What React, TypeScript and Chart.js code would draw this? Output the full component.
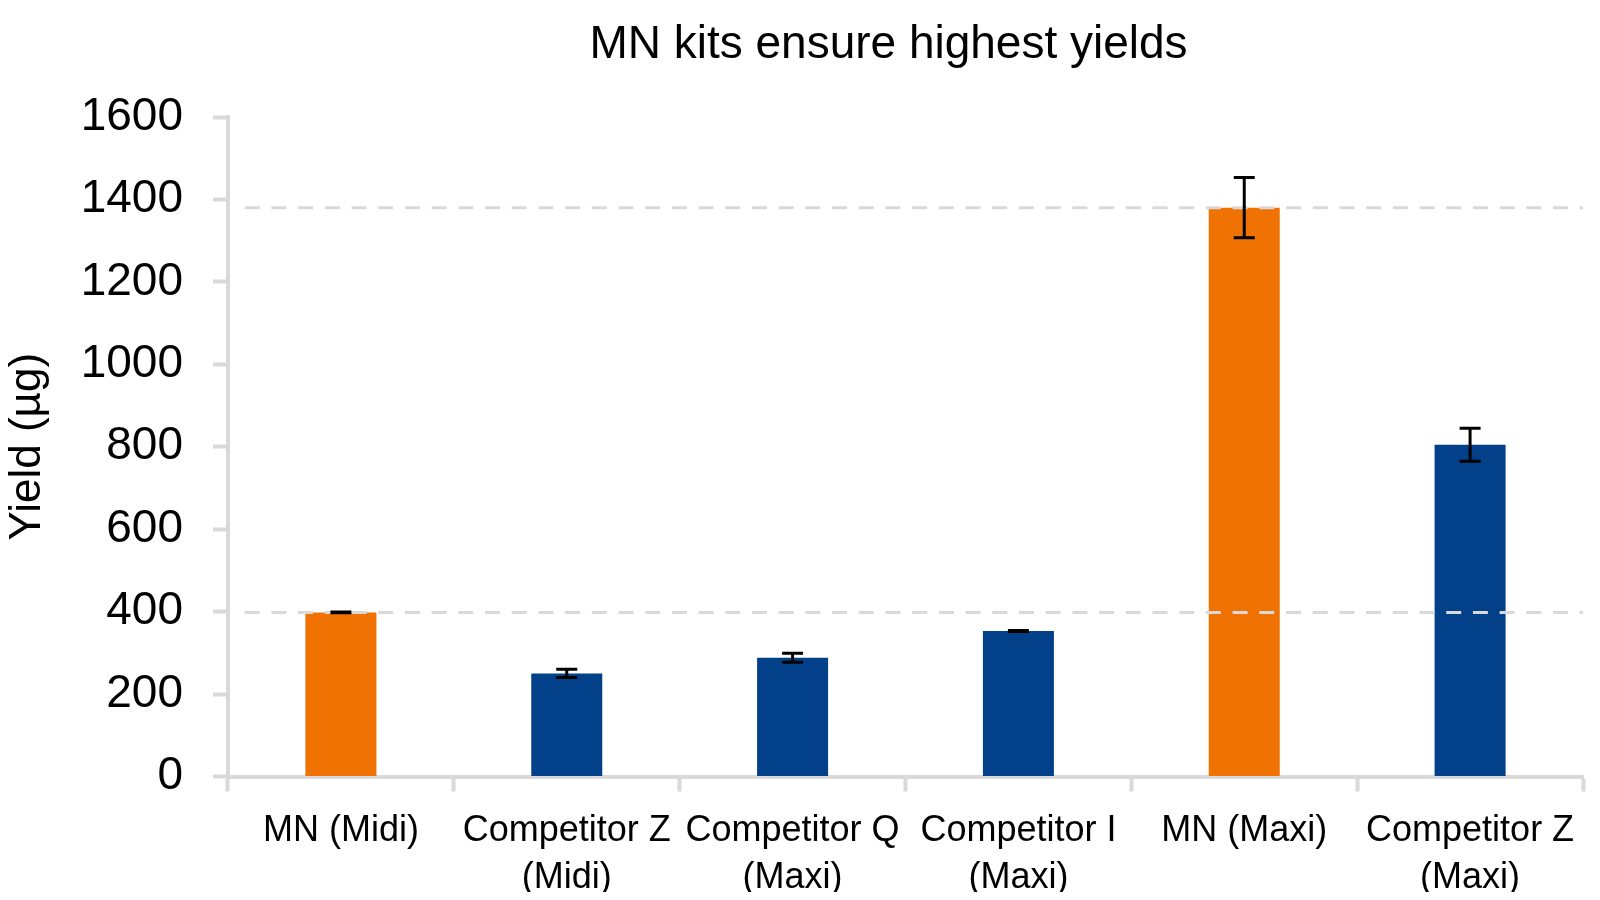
import React, { useEffect, useRef } from 'react';
import { Chart, registerables } from 'chart.js';

Chart.register(...registerables);

// ---- Data ----
const categoryLabels: string[][] = [
  ['MN (Midi)'],
  ['Competitor Z', '(Midi)'],
  ['Competitor Q', '(Maxi)'],
  ['Competitor I', '(Maxi)'],
  ['MN (Maxi)'],
  ['Competitor Z', '(Maxi)'],
];
const yieldValues = [398, 250, 288, 353, 1380, 805];
const yieldErrors = [1, 10, 11, 1, 73, 40];
const referenceLines = [398, 1380];
const yAxisMin = 0;
const yAxisMax = 1600;
const yAxisStep = 200;
const chartTitle = 'MN kits ensure highest yields';
const yAxisTitle = 'Yield (µg)';

// ---- Styles ----
const FONT = "'Liberation Sans', Arial, Helvetica, sans-serif";
const MN_ORANGE = '#EF7203';
const COMPETITOR_BLUE = '#02418A';
const AXIS_GRAY = '#D9D9D9';
const TEXT_COLOR = '#000000';

const barColors = categoryLabels.map((l) => (l[0].startsWith('MN') ? MN_ORANGE : COMPETITOR_BLUE));

const overlayPlugin = {
  id: 'overlay',
  afterDatasetsDraw(chart: any) {
    const { ctx, chartArea, scales } = chart;
    const y = scales.y;
    ctx.save();
    // dashed reference lines
    ctx.strokeStyle = AXIS_GRAY;
    ctx.lineWidth = 3;
    ctx.setLineDash([15, 11.7]);
    ctx.lineDashOffset = 15;
    referenceLines.forEach((v) => {
      const py = y.getPixelForValue(v);
      ctx.beginPath();
      ctx.moveTo(chartArea.left + 5, py);
      ctx.lineTo(chartArea.right, py);
      ctx.stroke();
    });
    ctx.setLineDash([]);
    // error bars
    const meta = chart.getDatasetMeta(0);
    ctx.strokeStyle = '#000000';
    ctx.lineWidth = 3;
    const cap = 10.5;
    meta.data.forEach((bar: any, i: number) => {
      const v = yieldValues[i];
      const e = yieldErrors[i];
      const top = y.getPixelForValue(v + e);
      const bot = y.getPixelForValue(v - e);
      const x = bar.x;
      ctx.beginPath();
      ctx.moveTo(x, top);
      ctx.lineTo(x, bot);
      ctx.moveTo(x - cap, top);
      ctx.lineTo(x + cap, top);
      ctx.moveTo(x - cap, bot);
      ctx.lineTo(x + cap, bot);
      ctx.stroke();
    });
    ctx.restore();
  },
  afterDraw(chart: any) {
    const { ctx, chartArea } = chart;
    ctx.save();
    ctx.font = `46px ${FONT}`;
    ctx.fillStyle = TEXT_COLOR;
    ctx.textAlign = 'center';
    ctx.textBaseline = 'alphabetic';
    ctx.fillText(chartTitle, (chartArea.left + chartArea.right) / 2 - 17, 50);
    ctx.restore();
  },
};

export default function App() {
  const canvasRef = useRef<HTMLCanvasElement | null>(null);

  useEffect(() => {
    if (!canvasRef.current) return;
    const chart = new Chart(canvasRef.current, {
      type: 'bar',
      data: {
        labels: categoryLabels,
        datasets: [
          {
            data: yieldValues,
            backgroundColor: barColors,
            borderWidth: 0,
            barPercentage: 0.3144,
            categoryPercentage: 1,
          },
        ],
      },
      options: {
        responsive: false,
        animation: false,
        layout: { padding: { top: 109, right: 9, left: 0, bottom: 0 } },
        plugins: {
          legend: { display: false },
          title: { display: false },
          tooltip: { enabled: false },
        },
        scales: {
          x: {
            offset: true,
            grid: {
              offset: true,
              drawOnChartArea: false,
              drawTicks: true,
              tickLength: 15,
              tickWidth: 4,
              tickColor: AXIS_GRAY,
            },
            border: { display: true, color: AXIS_GRAY, width: 4 },
            ticks: {
              padding: 17,
              color: TEXT_COLOR,
              maxRotation: 0,
              autoSkip: false,
              font: { family: FONT, size: 36, lineHeight: 1.28 },
            },
            afterFit: (scale: any) => {
              scale.height = 115.5;
            },
          },
          y: {
            min: yAxisMin,
            max: yAxisMax,
            grid: {
              drawOnChartArea: false,
              drawTicks: true,
              tickLength: 15,
              tickWidth: 4,
              tickColor: AXIS_GRAY,
            },
            border: { display: true, color: AXIS_GRAY, width: 4 },
            ticks: {
              stepSize: yAxisStep,
              padding: 30,
              color: TEXT_COLOR,
              font: { family: FONT, size: 46 },
              callback: (value: any) => String(value),
            },
            title: {
              display: true,
              text: yAxisTitle,
              color: TEXT_COLOR,
              font: { family: FONT, size: 44, lineHeight: 0.9 },
              padding: { top: 0, bottom: 0 },
            },
            afterFit: (scale: any) => {
              scale.width = 220;
            },
          },
        },
      },
      plugins: [overlayPlugin],
    });
    return () => chart.destroy();
  }, []);

  return (
    <div style={{ width: 1584, height: 884 }}>
      <canvas ref={canvasRef} width={1584} height={884} />
    </div>
  );
}
